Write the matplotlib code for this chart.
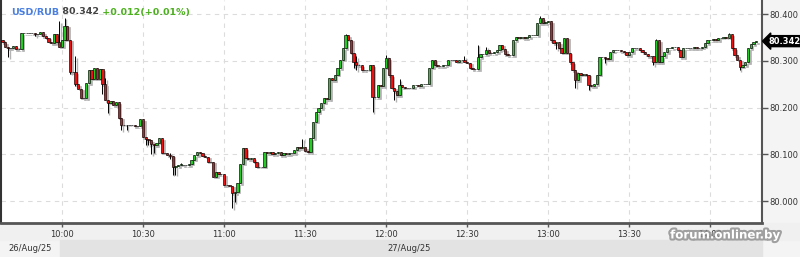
import matplotlib
matplotlib.use("Agg")
import matplotlib.pyplot as plt
import matplotlib.patheffects as pe
from matplotlib.patches import Rectangle
from matplotlib.transforms import ScaledTranslation

# one-minute candles from 09:38, prices in thousandths above 80.000
start_minute = 9 * 60 + 38
first_open = 345
closes = [
    340, 330, 327, 328, 331, 325, 325, 359, 359, 359,
    359, 360, 357, 357, 361, 353, 349, 341, 338, 357,
    340, 330, 345, 375, 345, 276, 276, 250, 240, 221,
    220, 252, 280, 262, 285, 262, 282, 250, 216, 210,
    214, 205, 212, 178, 163, 163, 163, 163, 163, 160,
    160, 175, 137, 133, 130, 122, 120, 125, 135, 103,
    103, 98, 97, 73, 75, 78, 78, 76, 76, 80,
    88, 98, 105, 103, 97, 95, 84, 84, 52, 62,
    57, 57, 34, 34, 33, 17, 20, 38, 80, 113,
    92, 90, 92, 84, 73, 73, 73, 105, 102, 105,
    100, 102, 104, 98, 102, 100, 103, 102, 110, 115,
    113, 115, 108, 104, 135, 170, 190, 199, 210, 220,
    218, 263, 258, 270, 284, 302, 327, 355, 345, 317,
    297, 291, 291, 280, 281, 281, 291, 222, 222, 248,
    246, 285, 306, 269, 242, 235, 227, 248, 244, 242,
    242, 242, 248, 248, 246, 250, 250, 250, 285, 302,
    291, 289, 289, 290, 292, 302, 302, 302, 298, 302,
    302, 298, 296, 285, 282, 282, 308, 314, 314, 323,
    316, 316, 318, 322, 334, 325, 314, 312, 312, 344,
    351, 349, 351, 348, 351, 355, 355, 355, 381, 391,
    381, 383, 385, 344, 338, 340, 328, 317, 349, 317,
    297, 280, 259, 274, 270, 272, 270, 248, 246, 250,
    270, 308, 308, 306, 304, 319, 323, 322, 323, 320,
    318, 312, 318, 327, 328, 327, 322, 318, 314, 310,
    311, 297, 344, 297, 310, 318, 327, 327, 329, 329,
    322, 308, 327, 327, 328, 327, 329, 327, 328, 330,
    338, 344, 344, 346, 344, 349, 349, 350, 349, 357,
    327, 312, 302, 287, 291, 297, 327, 336, 340, 342,
]
# wicks that reach past the body
spike_high = {21: 385, 23: 392, 27: 310, 38: 263, 62: 103, 66: 82, 111: 133,
              127: 358, 131: 310, 142: 312, 147: 260, 171: 310, 176: 334,
              179: 330, 199: 395, 242: 346, 269: 359}
spike_low = {2: 308, 12: 352, 25: 272, 27: 245, 37: 230, 39: 188, 44: 152,
             46: 152, 53: 120, 54: 120, 55: 100, 56: 103, 62: 90, 63: 56,
             64: 56, 85: -15, 86: -2, 130: 285, 131: 280, 137: 190, 145: 216,
             205: 325, 212: 242, 217: 238, 223: 295, 241: 290, 273: 280}

tick_minutes = [600, 630, 660, 690, 720, 750, 780, 810, 840]
tick_labels = ["10:00", "10:30", "11:00", "11:30", "12:00",
               "12:30", "13:00", "13:30", "14:00"]
price_ticks = [80.0, 80.1, 80.2, 80.3, 80.4]
last_price = 80.342

W, H = 800, 257
fig = plt.figure(figsize=(W / 100, H / 100), dpi=100, facecolor="#f4f4f4")
ax = fig.add_axes([1 / W, 34 / H, 761 / W, 223 / H])
ax.set_facecolor("white")

# bottom bands
fig.patches.append(Rectangle((0, 17 / H), 1, 17 / H, transform=fig.transFigure,
                             color="#f0f0f0", zorder=-2))
fig.patches.append(Rectangle((60 / W, 0), 702 / W, 17 / H, transform=fig.transFigure,
                             color="#e3e3e3", zorder=-2))

opens = [first_open] + closes[:-1]
xs = [start_minute + i for i in range(len(closes))]
o = [80 + v / 1000 for v in opens]
c = [80 + v / 1000 for v in closes]
hi = [80 + spike_high[i] / 1000 if i in spike_high else max(o[i], c[i]) for i in range(len(c))]
lo = [80 + spike_low[i] / 1000 if i in spike_low else min(o[i], c[i]) for i in range(len(c))]
bottoms = [min(a, b) for a, b in zip(o, c)]
heights = [max(abs(b - a), 0.0002) for a, b in zip(o, c)]
colors = ["#22cc22" if b >= a else "#ee1111" for a, b in zip(o, c)]

shadow = ax.transData + ScaledTranslation(1.6 / 100, -1.6 / 100, fig.dpi_scale_trans)
ax.vlines(xs, lo, hi, color="#b4b4b4", lw=1.0, transform=shadow, zorder=2)
ax.bar(xs, heights, bottom=bottoms, width=0.85, color="#b4b4b4", edgecolor="#b4b4b4",
       lw=0.5, transform=shadow, zorder=2)
ax.vlines(xs, lo, hi, color="black", lw=0.7, zorder=3)
ax.bar(xs, heights, bottom=bottoms, width=0.85, color=colors, edgecolor="black",
       lw=0.45, zorder=4)

ax.set_xlim(577.44, 859.2)
ax.set_ylim(79.953, 80.430)

ax.grid(True, ls=(0, (4, 4)), color="#dcdcdc", lw=0.8, zorder=0)
ax.set_xticks(tick_minutes, tick_labels)
ax.set_yticks(price_ticks, [f"{p:.3f}" for p in price_ticks])
ax.yaxis.tick_right()
ax.tick_params(axis="x", length=3, width=1, color="#555555", labelsize=6,
               labelcolor="#333333", pad=2)
ax.tick_params(axis="y", length=4, width=1, color="#555555", labelsize=6,
               labelcolor="#333333", pad=1)
ax.spines["top"].set_visible(False)
ax.spines["left"].set_color("#333333")
ax.spines["left"].set_linewidth(1.5)
ax.spines["bottom"].set_color("#555555")
ax.spines["bottom"].set_linewidth(2)
ax.spines["right"].set_color("#555555")
ax.spines["right"].set_linewidth(1.5)

# header
t1 = ax.text(10 / 761, 1 - 12 / 223, "USD/RUB", transform=ax.transAxes, va="center",
             ha="left", color="#4a7fe0", fontsize=6.8, weight="bold")
t2 = ax.annotate(" 80.342", xy=(1, 0.5), xycoords=t1, va="center", ha="left",
                 color="#444444", fontsize=6.8, weight="bold")
ax.annotate(" +0.012(+0.01%)", xy=(1, 0.5), xycoords=t2, va="center", ha="left",
            color="#4caf1f", fontsize=6.8, weight="bold")

# last price tag
ax.annotate(f"{last_price:.3f}", xy=(1, last_price), xycoords=("axes fraction", "data"),
            xytext=(4.5, 0), textcoords="offset points", va="center", ha="left",
            color="white", fontsize=6, weight="bold",
            bbox=dict(boxstyle="larrow,pad=0.12", fc="black", ec="black"))

fig.text(8 / W, 8.5 / H, "26/Aug/25", fontsize=6, color="#333333", va="center")
fig.text(387 / W, 8.5 / H, "27/Aug/25", fontsize=6, color="#333333", va="center")

fig.text(725 / W, 1 - 235 / H, "forum.onliner.by", fontsize=8.5, weight="bold",
         color="white", ha="center", va="center",
         path_effects=[pe.withStroke(linewidth=3, foreground="#8c8c8c", alpha=0.8)])

fig.savefig("out.png", dpi=100, facecolor=fig.get_facecolor())
